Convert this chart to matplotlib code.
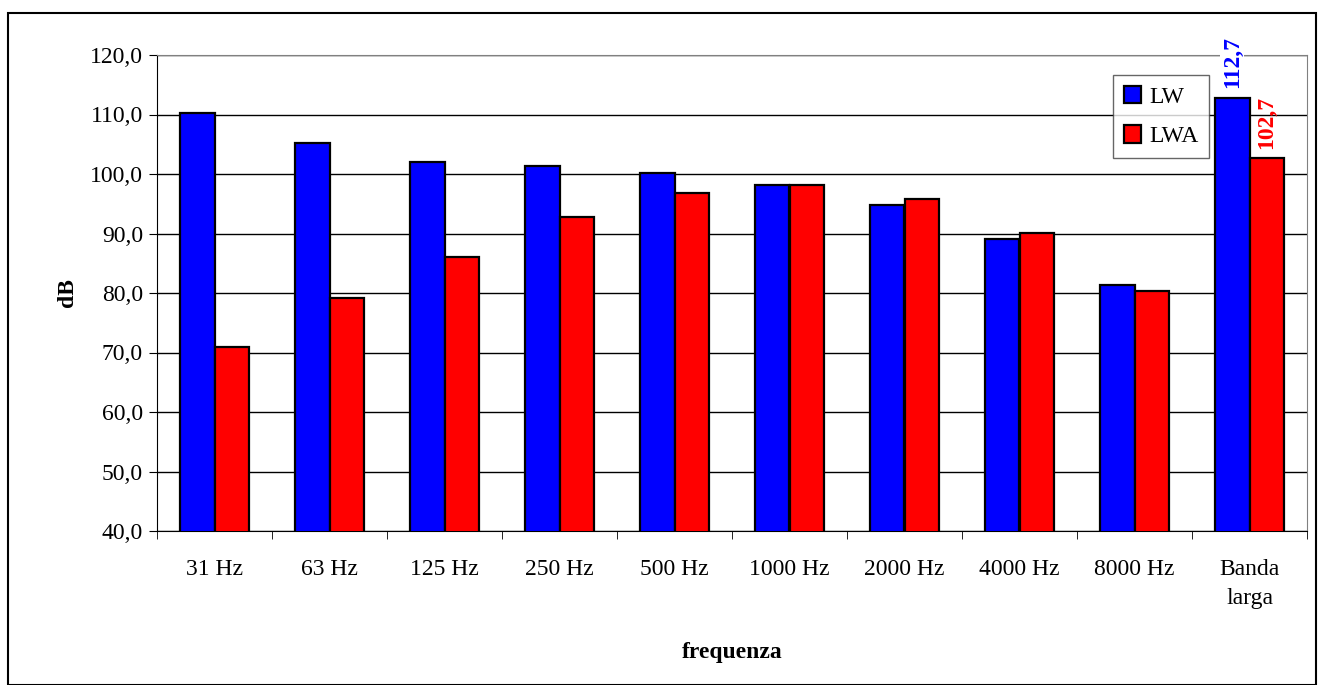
import numpy as np
import matplotlib.pyplot as plt
from matplotlib.patches import Rectangle

categories = ['31 Hz', '63 Hz', '125 Hz', '250 Hz', '500 Hz', '1000 Hz',
              '2000 Hz', '4000 Hz', '8000 Hz', 'Banda\nlarga']
lw = [110.3, 105.2, 102.0, 101.4, 100.2, 98.2, 94.8, 89.1, 81.4, 112.7]
lwa = [71.0, 79.2, 86.1, 92.8, 96.8, 98.2, 95.8, 90.1, 80.4, 102.7]

plt.rcParams['font.family'] = ['Liberation Serif', 'DejaVu Serif']

fig = plt.figure(figsize=(13.24, 6.85), dpi=100)
# outer chart border
fig.patches.append(Rectangle((8 / 1324, 0), 1 - 16 / 1324, 1 - 13 / 685, transform=fig.transFigure,
                             fill=False, edgecolor='black', linewidth=1.5))

ax = fig.add_axes([157 / 1324, 1 - 531 / 685, (1307 - 157) / 1324, (531 - 55) / 685])

x = np.arange(len(categories))
w = 0.3
ax.bar(x - w / 2, lw, w, color='#0000ff', edgecolor='black', linewidth=1.6, label='LW', zorder=3)
ax.bar(x + w / 2, lwa, w, color='#ff0000', edgecolor='black', linewidth=1.6, label='LWA', zorder=3)

ax.set_xlim(-0.5, len(categories) - 0.5)
ax.set_ylim(40, 120)
ax.set_yticks(np.arange(40, 121, 10))
ax.set_yticklabels([f'{v:.1f}'.replace('.', ',') for v in np.arange(40, 121, 10)], fontsize=17)
ax.yaxis.grid(True, color='black', linewidth=1, zorder=0)
ax.set_axisbelow(True)

ax.set_xticks(x)
ax.set_xticklabels(categories, fontsize=17, linespacing=1.5)
ax.set_xticks(np.arange(-0.5, len(categories), 1), minor=True)
ax.tick_params(axis='x', which='major', length=0, pad=20)
ax.tick_params(axis='x', which='minor', length=6, color='black')
ax.tick_params(axis='y', length=6, direction='out', color='black', pad=4)

for s in ['top', 'right']:
    ax.spines[s].set_color('gray')
ax.spines['left'].set_color('black')
ax.spines['bottom'].set_color('black')

ax.set_ylabel('dB', fontsize=17, fontweight='bold', labelpad=9)
ax.set_xlabel('frequenza', fontsize=17, fontweight='bold', labelpad=24)

# value labels on broadband bars
ax.text(x[-1] - w / 2, lw[-1] + 1.8, f'{lw[-1]:.1f}'.replace('.', ','), rotation=90, ha='center', va='bottom',
        color='#0000ff', fontsize=17, fontweight='bold', zorder=5,
        bbox=dict(facecolor='white', edgecolor='none', pad=1))
ax.text(x[-1] + w / 2, lwa[-1] + 1.5, f'{lwa[-1]:.1f}'.replace('.', ','), rotation=90, ha='center', va='bottom',
        color='#ff0000', fontsize=17, fontweight='bold', zorder=5)

leg = ax.legend(loc='upper left', bbox_to_anchor=((1113 - 157) / 1150, 1 - (75 - 55) / 476),
                fontsize=17, frameon=True, fancybox=False, edgecolor='black',
                handlelength=0.75, handleheight=0.75, handletextpad=0.35, borderpad=0.45,
                labelspacing=0.75, borderaxespad=0)
leg.get_frame().set_linewidth(1)
leg.get_frame().set_edgecolor('#404040')

fig.savefig('out.png', dpi=100)
